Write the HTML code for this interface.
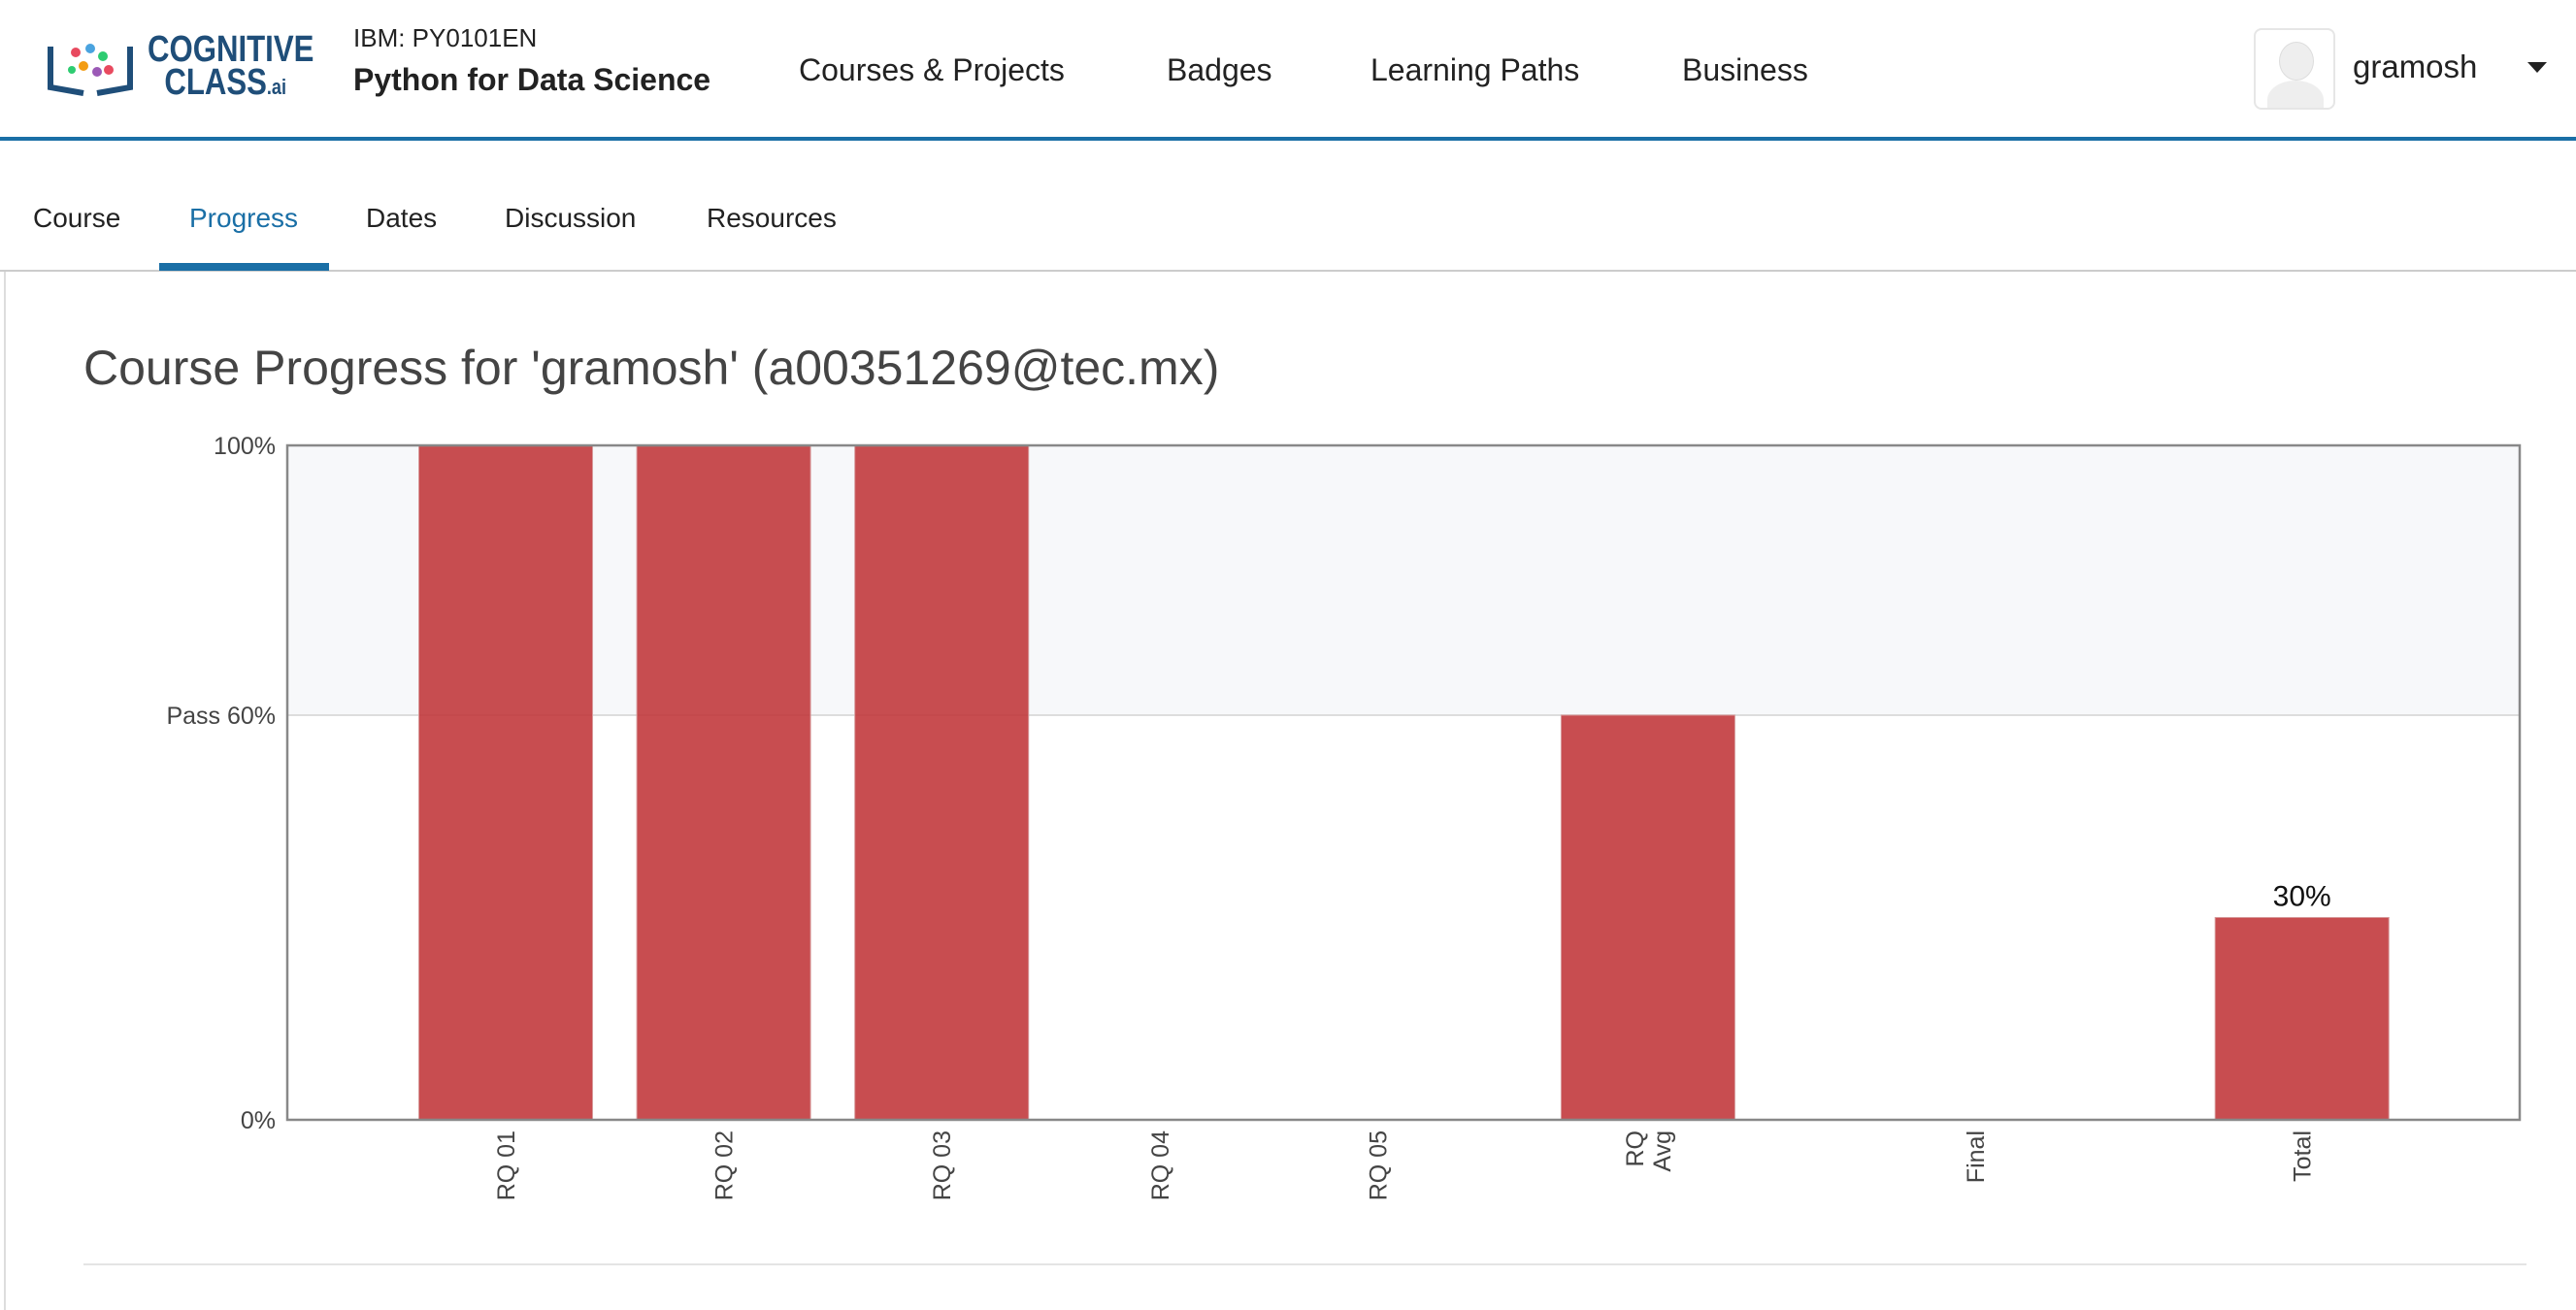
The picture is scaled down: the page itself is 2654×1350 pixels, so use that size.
<!DOCTYPE html>
<html><head><meta charset="utf-8"><style>
body{margin:0;width:2654px;height:1350px;background:#fff;font-family:"Liberation Sans",sans-serif;position:relative;overflow:hidden;color:#333}
.a{position:absolute;white-space:nowrap}
</style></head><body>
<div class="a" style="left:0;top:0;width:2654px;height:141px;background:#fff;border-bottom:4px solid #1a6fa6"></div>
<div class="a" style="left:48px;top:38px;width:270px;height:62px">
 <svg width="90" height="62" viewBox="0 0 90 62"><path d="M4 10 V52 L38 58 M86 10 V52 L52 58" stroke="#1f4e79" stroke-width="6" fill="none"/>
 <circle cx="30" cy="16" r="5" fill="#e84a5f"/><circle cx="45" cy="12" r="5" fill="#4aa3df"/><circle cx="58" cy="20" r="5" fill="#2ecc71"/><circle cx="38" cy="30" r="5" fill="#f39c12"/><circle cx="52" cy="36" r="5" fill="#9b59b6"/><circle cx="64" cy="34" r="5" fill="#e84a5f"/><circle cx="26" cy="34" r="4" fill="#2ecc71"/></svg>
 <div class="a" style="left:104px;top:-4px;font:bold 38px 'Liberation Sans Narrow','Liberation Sans',sans-serif;color:#1f4e79;line-height:34px;transform:scaleX(.82);transform-origin:left">COGNITIVE<br>&nbsp;&nbsp;CLASS<span style="font-size:22px">.ai</span></div>
</div>
<div class="a" style="left:364px;top:24px;font-size:26px;color:#222">IBM: PY0101EN</div>
<div class="a" style="left:364px;top:64px;font-size:32px;font-weight:bold;color:#222">Python for Data Science</div>
<div class="a" style="left:823px;top:54px;font-size:32px;color:#222">Courses &amp; Projects</div>
<div class="a" style="left:1202px;top:54px;font-size:32px;color:#222">Badges</div>
<div class="a" style="left:1412px;top:54px;font-size:32px;color:#222">Learning Paths</div>
<div class="a" style="left:1733px;top:54px;font-size:32px;color:#222">Business</div>
<div class="a" style="left:2322px;top:29px;width:80px;height:80px;border:2px solid #e6e6e6;border-radius:8px;overflow:hidden">
 <div class="a" style="left:24px;top:12px;width:34px;height:38px;border-radius:50%;background:#eee;border:1px solid #ddd"></div>
 <div class="a" style="left:12px;top:52px;width:58px;height:40px;border-radius:50% 50% 0 0;background:#eee"></div></div>
<div class="a" style="left:2424px;top:50px;font-size:33px;color:#222">gramosh</div>
<div class="a" style="left:2604px;top:64px;width:0;height:0;border-left:10px solid transparent;border-right:10px solid transparent;border-top:11px solid #222"></div>
<div class="a" style="left:0;top:278px;width:2654px;height:2px;background:#ccc"></div>
<div class="a" style="left:34px;top:209px;font-size:28px;color:#222">Course</div>
<div class="a" style="left:195px;top:209px;font-size:28px;color:#1a6fa6">Progress</div>
<div class="a" style="left:164px;top:271px;width:175px;height:8px;background:#1a6fa6"></div>
<div class="a" style="left:377px;top:209px;font-size:28px;color:#222">Dates</div>
<div class="a" style="left:520px;top:209px;font-size:28px;color:#222">Discussion</div>
<div class="a" style="left:728px;top:209px;font-size:28px;color:#222">Resources</div>
<div class="a" style="left:4px;top:280px;width:2px;height:1070px;background:#ddd"></div>
<div class="a" style="left:86px;top:350px;font-size:50px;color:#444">Course Progress for 'gramosh' (a00351269@tec.mx)</div>
<div class="a" style="left:86px;top:1302px;width:2517px;height:2px;background:#e4e4e4"></div>
<svg class="a" id="chart" style="left:0;top:0" width="2654" height="1350"></svg>
<script>
const categories=["RQ 01","RQ 02","RQ 03","RQ 04","RQ 05","RQ|Avg","Final","Total"];
const positions=[0,1,2,3,4,5.24,6.74,8.24];
const values=[100,100,100,0,0,60,0,30];
const valueLabels=["","","","","","","","30%"];
const tickValues=[0,60,100];
const tickLabels=["0%","Pass 60%","100%"];
const L=296,R=2596,T=459,B=1154,X0=521,STEP=224.6,BW=179;
const y=v=>B-(v/100)*(B-T);
const x=i=>X0+positions[i]*STEP;
const s=document.getElementById('chart');const NS='http://www.w3.org/2000/svg';
function mk(t,a){const e=document.createElementNS(NS,t);for(const k in a)e.setAttribute(k,a[k]);s.appendChild(e);return e;}
let e=mk('rect',{x:L,y:y(100),width:R-L,height:y(60)-y(100),fill:'#f7f8fa'});


e=mk('line',{x1:L,x2:R,y1:y(60),y2:y(60),stroke:'#ddd','stroke-width':2});


values.forEach((v,i)=>{
 const r=mk('rect',{x:x(i)-BW/2,y:y(v),width:BW,height:B-y(v),fill:'#c03438','fill-opacity':0.88,stroke:'#d79a9b','stroke-width':1});
 
 
 if(valueLabels[i]){const t=mk('text',{x:x(i),y:y(v)-12,'text-anchor':'middle','font-size':30,fill:'#111'});t.textContent=valueLabels[i];
 
 }
 const parts=categories[i].split('|');
 parts.forEach((p,j)=>{const cx=x(i)+(j-(parts.length-1)/2)*28+9;
  const t=mk('text',{x:cx,y:1165,'text-anchor':'end','font-size':25,fill:'#444',transform:`rotate(-90 ${cx} 1165)`});t.textContent=p;
  
  });
});
e=mk('rect',{x:L,y:T,width:R-L,height:B-T,fill:'none',stroke:'#888','stroke-width':2.5});


tickValues.forEach((v,i)=>{const t=mk('text',{x:284,y:y(v)+9,'text-anchor':'end','font-size':25,fill:'#444'});t.textContent=tickLabels[i];
 
 });
</script>
</body></html>
